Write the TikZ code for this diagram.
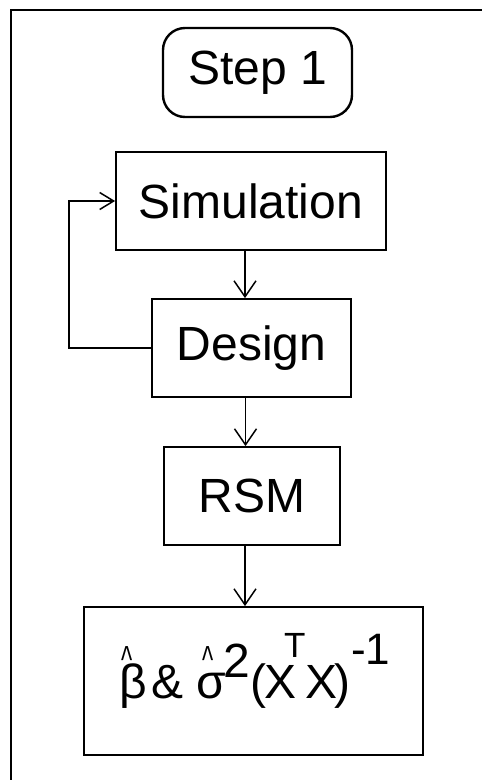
\documentclass[tikz,border=0pt]{standalone}
\usepackage{fontspec}
\setmainfont{Liberation Sans}
\usetikzlibrary{arrows.meta}

\tikzset{
  box/.style={draw, line width=1.8pt, inner sep=0pt, font=\fontsize{48}{48}\selectfont},
  flow/.style={line width=1.5pt, -{Straight Barb[length=16pt, width=22pt, line width=1.5pt]}},
  loopflow/.style={line width=1.5pt, -{Straight Barb[length=14pt, width=17pt, line width=1.5pt]}},
  frm/.style={line width=1.8pt},
  piece/.style={anchor=base west, inner sep=0pt, font=\fontsize{48}{48}\selectfont},
  exppiece/.style={anchor=base west, inner sep=0pt, font=\fontsize{44}{44}\selectfont},
  smallpiece/.style={anchor=base west, inner sep=0pt, font=\fontsize{35}{35}\selectfont}
}
% a tall circumflex set over a letter; #1 = shift from the letter's left edge
\newcommand{\hatover}[2]{\rlap{\hspace{#1}\raisebox{25pt}{\fontsize{28}{28}\selectfont\scalebox{0.85}[1.4]{\textasciicircum}}}#2}

\begin{document}
\begin{tikzpicture}[x=1pt, y=-1pt]
\useasboundingbox (0,0) rectangle (482,780);

% outer frame (left and top edges)
\draw[frm] (11,785) -- (11,10) -- (490,10);

% header
\node[box, line width=2.4pt, rounded corners=22pt, minimum width=189pt, minimum height=89pt]
  (step) at (257.5,72.5) {Step 1};

% flow boxes
\node[box, minimum width=270pt, minimum height=98pt] (sim)    at (251,201)   {Simulation};
\node[box, minimum width=199pt, minimum height=98pt] (design) at (251.5,348) {Design};
\node[box, minimum width=176pt, minimum height=98pt] (rsm)    at (252,496)   {RSM};
\node[box, minimum width=339pt, minimum height=148pt] (result) at (253.5,681) {};

% result formula
\node[piece] (beta)  at (119,698) {\hatover{2.5pt}{β}};
\node[piece] (amp)   at (151,698) {\&};
\node[piece] (sigma) at (196,698) {\hatover{6.5pt}{σ}};
\node[piece] (two)   at (223,677) {2};
\node[piece] (lpar)  at (250,698) {(};
\node[piece] (xa)    at (264,698) {X};
\node[smallpiece] (tr) at (284,657) {T};
\node[piece] (xb)    at (305,698) {X};
\node[piece] (rpar)  at (334,698) {)};
\node[exppiece] (inv) at (351,664) {-1};

% connectors
\draw[flow] ([xshift=-6pt]sim.south) -- ([xshift=-6pt]sim.south |- design.north);
\draw[flow] ([xshift=-6pt]design.south) -- ([xshift=-6pt]design.south |- rsm.north);
\draw[flow] ([xshift=-7pt]rsm.south) -- ([xshift=-7pt]rsm.south |- result.north);
\draw[loopflow] (design.west) -- ++(-82,0) |- (sim.west);
\end{tikzpicture}
\end{document}
